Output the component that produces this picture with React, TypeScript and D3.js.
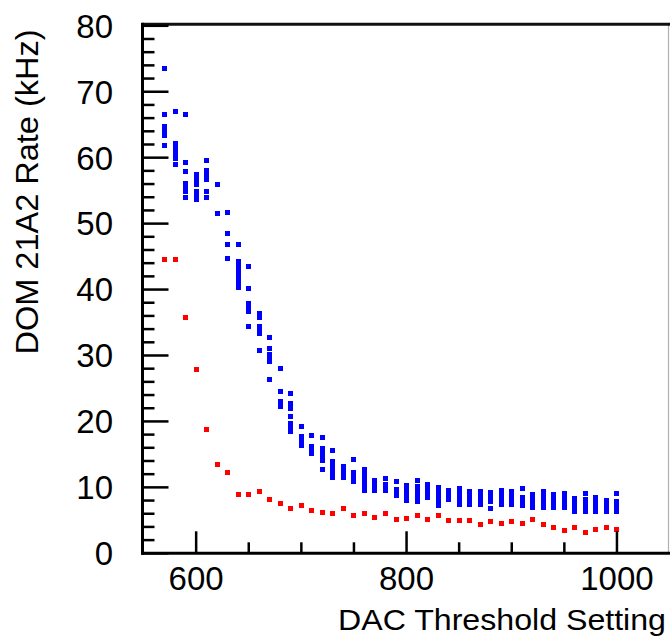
import React from 'react';
import * as d3 from 'd3';

// DAC threshold settings (x) for the red series
const dacValues = [570, 580, 590, 600, 610, 620, 630, 640, 650, 660, 670, 680, 690, 700, 710, 720, 730, 740, 750, 760, 770, 780, 790, 800, 810, 820, 830, 840, 850, 860, 870, 880, 890, 900, 910, 920, 930, 940, 950, 960, 970, 980, 990, 1000];
// Red series rate (kHz)
const redRates = [44.6, 44.5, 35.7, 27.8, 18.8, 13.4, 12.2, 8.85, 8.85, 9.35, 8.1, 7.6, 6.8, 7.2, 6.5, 6.2, 6.0, 6.8, 5.7, 6.0, 5.4, 6.0, 5.2, 5.3, 5.7, 5.2, 5.7, 4.9, 4.9, 5.05, 4.4, 4.8, 4.5, 4.85, 4.55, 5.2, 4.4, 3.95, 3.4, 3.95, 3.1, 3.55, 3.95, 3.55];
// Blue series: clusters of measurements [dac, low, high] (kHz)
const blueClusters: [number, number, number][] = [
  [570, 73.6, 73.6], [570, 66.6, 66.6], [570, 63.3, 64.8], [570, 61.8, 61.8],
  [580, 67.0, 67.0], [580, 59.9, 62.2], [580, 58.9, 58.9],
  [590, 66.5, 66.5], [590, 59.3, 59.3], [590, 57.9, 57.9], [590, 54.8, 56.1], [590, 54.0, 54.0],
  [600, 55.9, 57.4], [600, 53.6, 54.8],
  [610, 59.5, 59.5], [610, 56.7, 58.1], [610, 54.8, 54.8], [610, 54.0, 54.0],
  [620, 56.0, 56.0], [620, 51.6, 51.6],
  [630, 51.65, 51.65], [630, 48.5, 48.5], [630, 46.8, 46.8], [630, 44.7, 44.7],
  [640, 46.8, 46.8], [640, 42.7, 44.2], [640, 40.3, 42.1],
  [650, 43.5, 43.5], [650, 40.2, 40.2], [650, 36.6, 37.9], [650, 34.4, 34.4],
  [660, 35.8, 36.4], [660, 33.4, 34.4], [660, 30.7, 30.7],
  [670, 32.8, 32.8], [670, 31.1, 31.1], [670, 29.1, 30.1], [670, 26.3, 26.3],
  [680, 28.0, 28.0], [680, 24.5, 24.5], [680, 22.2, 23.0],
  [690, 24.2, 24.2], [690, 22.0, 22.7], [690, 20.8, 20.8], [690, 18.4, 19.7],
  [700, 19.2, 19.2], [700, 16.4, 17.7],
  [710, 17.9, 17.9], [710, 15.2, 16.2],
  [720, 17.6, 17.6], [720, 14.1, 15.9], [720, 12.7, 12.7],
  [730, 15.6, 15.6], [730, 11.5, 13.9],
  [740, 11.5, 13.2],
  [750, 14.3, 14.3], [750, 10.9, 12.3],
  [760, 11.1, 12.7], [760, 9.5, 10.3],
  [770, 9.5, 11.0],
  [780, 11.4, 11.4], [780, 9.5, 10.4],
  [790, 10.9, 10.9], [790, 8.8, 9.7],
  [800, 8.0, 10.3],
  [810, 11.1, 11.1], [810, 7.8, 10.1],
  [820, 8.5, 10.4],
  [830, 7.3, 10.0],
  [840, 8.2, 9.6],
  [850, 7.4, 9.9],
  [860, 7.4, 9.3],
  [870, 7.4, 9.3],
  [880, 7.8, 9.2], [880, 6.8, 6.8],
  [890, 7.4, 9.5],
  [900, 7.4, 9.4],
  [910, 9.85, 9.85], [910, 7.2, 8.5],
  [920, 6.9, 8.9],
  [930, 6.9, 9.4],
  [940, 6.9, 8.9],
  [950, 6.9, 9.1],
  [960, 6.3, 8.3],
  [970, 9.1, 9.1], [970, 6.3, 8.2],
  [980, 6.3, 8.5],
  [990, 6.3, 8.0],
  [1000, 9.1, 9.1], [1000, 6.3, 7.9],
];

const yTickLabels = ['0', '10', '20', '30', '40', '50', '60', '70', '80'];
const xTickLabels = ['600', '800', '1000'];
const xTitle = 'DAC Threshold Setting';
const yTitle = 'DOM 21A2 Rate (kHz)';

export default function App() {
  const W = 670, H = 639;
  const left = 142.5, right = 668.5, top = 24.3, bottom = 553.3;
  const x = d3.scaleLinear().domain([549, 1049]).range([left, right]);
  const y = d3.scaleLinear().domain([0, 80]).range([bottom, 25.8]);
  const font = '"Liberation Sans", Arial, Helvetica, sans-serif';

  const yMinor = d3.range(0, 81, 2);
  const xMinor = d3.range(600, 1001, 50);
  const ms = 5;

  return (
    <svg width={W} height={H} style={{ position: 'absolute', left: 0, top: 0, background: '#fff' }}>
      <rect x={0} y={0} width={W} height={H} fill="#fff" />
      {/* data: blue */}
      {blueClusters.map(([d, lo, hi], i) => (
        <rect key={'b' + i} x={x(d) - ms / 2} y={y(hi) - ms / 2} width={ms}
          height={y(lo) - y(hi) + ms} fill="#0000ff" shapeRendering="crispEdges" />
      ))}
      {/* data: red */}
      {dacValues.map((d, i) => (
        <rect key={'r' + i} x={x(d) - ms / 2} y={y(redRates[i]) - ms / 2} width={ms} height={ms}
          fill="#ff0000" shapeRendering="crispEdges" />
      ))}
      {/* frame */}
      <line x1={right} x2={right} y1={top} y2={bottom} stroke="#b0b0b0" strokeWidth={1.2} />
      <line x1={left} x2={W} y1={top} y2={top} stroke="#111" strokeWidth={3} />
      <line x1={left} x2={left} y1={top - 1.5} y2={bottom + 1.5} stroke="#000" strokeWidth={3} />
      <line x1={left - 1.5} x2={W} y1={bottom} y2={bottom} stroke="#000" strokeWidth={3} />
      {/* y ticks */}
      {yMinor.map((v) => (
        <line key={'yt' + v} x1={left} x2={left + (v % 10 === 0 ? 26 : 12)} y1={y(v)} y2={y(v)}
          stroke="#000" strokeWidth={2.5} />
      ))}
      {yTickLabels.map((t) => (
        <text key={'yl' + t} x={113} y={y(+t)} dy="0.36em" textAnchor="end" fontFamily={font}
          fontSize={33} fill="#000">{t}</text>
      ))}
      {/* x ticks */}
      {xMinor.map((v) => (
        <line key={'xt' + v} x1={x(v)} x2={x(v)} y1={bottom} y2={bottom - (v % 200 === 0 ? 22 : 11)}
          stroke="#000" strokeWidth={2.5} />
      ))}
      {xTickLabels.map((t) => (
        <text key={'xl' + t} x={x(+t)} y={590} textAnchor="middle" fontFamily={font}
          fontSize={33} fill="#000">{t}</text>
      ))}
      {/* titles */}
      <text x={666} y={630} textAnchor="end" fontFamily={font} fontSize={30} fill="#000"
        textLength={328} lengthAdjust="spacingAndGlyphs">{xTitle}</text>
      <text transform="translate(38,192) rotate(-90)" textAnchor="middle" fontFamily={font}
        fontSize={32} fill="#000" textLength={325} lengthAdjust="spacingAndGlyphs">{yTitle}</text>
    </svg>
  );
}
